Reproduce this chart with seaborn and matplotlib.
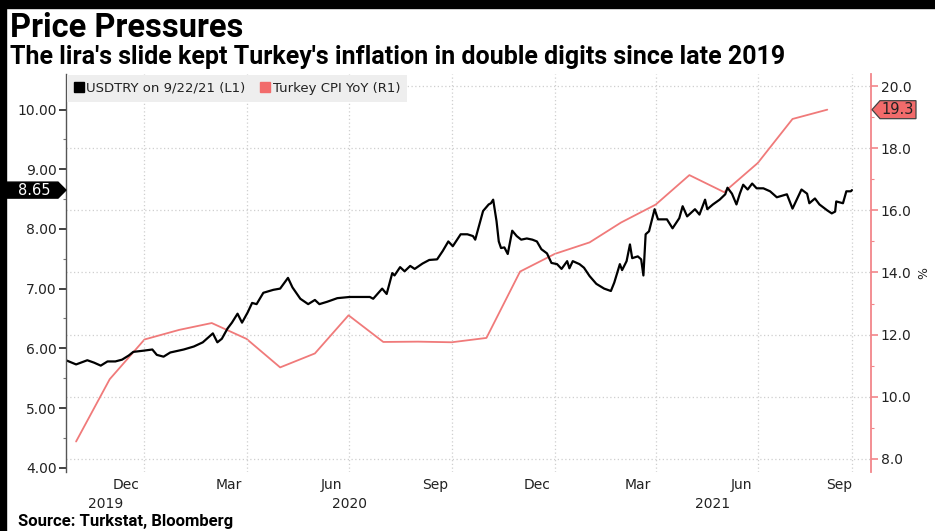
import matplotlib
matplotlib.use("Agg")
import matplotlib.pyplot as plt
import matplotlib.transforms as mtransforms
from matplotlib.lines import Line2D
from matplotlib.patches import Rectangle, Polygon
import seaborn as sns
import pandas as pd
import numpy as np
from decimal import Decimal, ROUND_HALF_UP

# ---------------- data ----------------
usd_dates = [
    "2019-10-22", "2019-10-31", "2019-11-10", "2019-11-16", "2019-11-22", "2019-11-28", "2019-12-05", "2019-12-11", "2019-12-17", "2019-12-21",
    "2019-12-30", "2020-01-07", "2020-01-11", "2020-01-17", "2020-01-23", "2020-02-04", "2020-02-13", "2020-02-21", "2020-03-01", "2020-03-05",
    "2020-03-09", "2020-03-14", "2020-03-18", "2020-03-23", "2020-03-27", "2020-04-01", "2020-04-05", "2020-04-09", "2020-04-15", "2020-04-24",
    "2020-04-30", "2020-05-07", "2020-05-11", "2020-05-18", "2020-05-25", "2020-05-31", "2020-06-04", "2020-06-11", "2020-06-20", "2020-07-01",
    "2020-07-19", "2020-07-22", "2020-07-30", "2020-08-03", "2020-08-08", "2020-08-10", "2020-08-15", "2020-08-19", "2020-08-24", "2020-08-28",
    "2020-09-04", "2020-09-10", "2020-09-17", "2020-09-22", "2020-09-27", "2020-10-01", "2020-10-08", "2020-10-14", "2020-10-19", "2020-10-21",
    "2020-10-26", "2020-10-28", "2020-11-02", "2020-11-04", "2020-11-06", "2020-11-09", "2020-11-11", "2020-11-13", "2020-11-16", "2020-11-19",
    "2020-11-23", "2020-11-27", "2020-12-01", "2020-12-06", "2020-12-11", "2020-12-15", "2020-12-19", "2020-12-24", "2020-12-28", "2021-01-02",
    "2021-01-06", "2021-01-11", "2021-01-13", "2021-01-16", "2021-01-22", "2021-01-26", "2021-01-31", "2021-02-06", "2021-02-13", "2021-02-19",
    "2021-02-22", "2021-02-27", "2021-03-01", "2021-03-05", "2021-03-08", "2021-03-10", "2021-03-15", "2021-03-18", "2021-03-20", "2021-03-22",
    "2021-03-25", "2021-03-30", "2021-04-02", "2021-04-10", "2021-04-15", "2021-04-21", "2021-04-24", "2021-04-28", "2021-05-05", "2021-05-09",
    "2021-05-14", "2021-05-16", "2021-05-21", "2021-05-27", "2021-06-01", "2021-06-03", "2021-06-07", "2021-06-11", "2021-06-14", "2021-06-17",
    "2021-06-21", "2021-06-25", "2021-06-29", "2021-07-05", "2021-07-11", "2021-07-17", "2021-07-26", "2021-07-31", "2021-08-08", "2021-08-13",
    "2021-08-15", "2021-08-20", "2021-08-24", "2021-08-31", "2021-09-04", "2021-09-07", "2021-09-08", "2021-09-14", "2021-09-17", "2021-09-21",
    "2021-09-22",
]
usd_values = [
    5.80, 5.73, 5.80, 5.76, 5.71, 5.78, 5.78, 5.81, 5.88, 5.94,
    5.96, 5.98, 5.89, 5.86, 5.93, 5.98, 6.03, 6.10, 6.25, 6.10,
    6.16, 6.33, 6.43, 6.58, 6.43, 6.60, 6.76, 6.74, 6.93, 6.98,
    7.00, 7.18, 7.02, 6.83, 6.74, 6.81, 6.74, 6.78, 6.84, 6.86,
    6.86, 6.83, 7.00, 6.91, 7.26, 7.22, 7.36, 7.29, 7.38, 7.33,
    7.42, 7.48, 7.49, 7.63, 7.79, 7.71, 7.91, 7.91, 7.88, 7.82,
    8.16, 8.30, 8.41, 8.43, 8.49, 8.13, 7.79, 7.68, 7.69, 7.58,
    7.97, 7.88, 7.82, 7.84, 7.82, 7.79, 7.66, 7.59, 7.43, 7.41,
    7.33, 7.46, 7.34, 7.46, 7.41, 7.35, 7.21, 7.08, 7.00, 6.96,
    7.10, 7.41, 7.31, 7.46, 7.74, 7.51, 7.54, 7.49, 7.22, 7.91,
    7.96, 8.33, 8.16, 8.16, 8.01, 8.18, 8.38, 8.21, 8.33, 8.24,
    8.49, 8.33, 8.41, 8.49, 8.58, 8.69, 8.59, 8.41, 8.59, 8.74,
    8.66, 8.76, 8.68, 8.68, 8.63, 8.53, 8.58, 8.34, 8.66, 8.59,
    8.43, 8.51, 8.41, 8.31, 8.26, 8.29, 8.46, 8.43, 8.63, 8.63,
    8.65,
]

cpi_dates = [
    "2019-10-31", "2019-11-30", "2019-12-31", "2020-01-31", "2020-02-29", "2020-03-31", "2020-04-30", "2020-05-31",
    "2020-06-30", "2020-07-31", "2020-08-31", "2020-09-30", "2020-10-31", "2020-11-30", "2020-12-31", "2021-01-31",
    "2021-02-28", "2021-03-31", "2021-04-30", "2021-05-31", "2021-06-30", "2021-07-31", "2021-08-31",
]
cpi_values = [
    8.55, 10.56, 11.84, 12.15, 12.37, 11.86, 10.94, 11.39,
    12.62, 11.76, 11.77, 11.75, 11.89, 14.03, 14.60, 14.97,
    15.61, 16.19, 17.14, 16.59, 17.53, 18.95, 19.25,
]

series_labels = ["USDTRY on 9/22/21 (L1)", "Turkey CPI YoY (R1)"]
left_ticks = [4, 5, 6, 7, 8, 9, 10]
right_ticks = [8, 10, 12, 14, 16, 18, 20]
grid_dates = ["2019-12-31", "2020-03-31", "2020-06-30", "2020-09-30", "2020-12-31", "2021-03-31", "2021-06-30", "2021-09-22"]
month_label_dates = ["2019-12-15", "2020-03-15", "2020-06-15", "2020-09-15", "2020-12-15", "2021-03-15", "2021-06-15", "2021-09-11"]
month_labels = ["Dec", "Mar", "Jun", "Sep", "Dec", "Mar", "Jun", "Sep"]
year_label_dates = ["2019-11-26", "2020-07-01", "2021-05-21"]
year_labels = ["2019", "2020", "2021"]
x_range = ["2019-10-22", "2021-10-09"]

title = "Price Pressures"
subtitle = "The lira's slide kept Turkey's inflation in double digits since late 2019"
source = "Source: Turkstat, Bloomberg"

# ---------------- style ----------------
RED = "#F07A7A"
RED_SPINE = "#F2868A"
TAG_RED = "#F26B6B"
GRID = "#cfcfcf"
TXT = "#222222"

sns.set_style("white")
plt.rcParams["font.family"] = ["DejaVu Sans"]
BOLD_FAMILY = ["Roboto", "DejaVu Sans"]

W, H = 935, 531
fig = plt.figure(figsize=(W / 100, H / 100), dpi=100)
fig.patch.set_facecolor("white")

ax_l, ax_r, ax_t, ax_b = 66, 871, 74, 472
ax = fig.add_axes([ax_l / W, 1 - ax_b / H, (ax_r - ax_l) / W, (ax_b - ax_t) / H])
ax2 = ax.twinx()

df_usd = pd.DataFrame({"date": pd.to_datetime(usd_dates), "value": usd_values})
df_cpi = pd.DataFrame({"date": pd.to_datetime(cpi_dates), "value": cpi_values})

sns.lineplot(data=df_cpi, x="date", y="value", ax=ax2, color=RED, lw=1.3)
sns.lineplot(data=df_usd, x="date", y="value", ax=ax, color="black", lw=1.6)

# black line above red
ax.set_zorder(ax2.get_zorder() + 1)
ax.patch.set_visible(False)

ax.set_xlim(pd.to_datetime(x_range[0]), pd.to_datetime(x_range[1]))
ax.set_ylim(3.928, 10.595)
ax2.set_ylim(7.567, 20.40)

for a in (ax, ax2):
    a.set_xlabel("")
    a.set_ylabel("")

# left axis
ax.set_yticks(left_ticks)
ax.set_yticklabels([f"{v:.2f}" for v in left_ticks])
ax.set_yticks([v + 0.5 for v in left_ticks[:-1]], minor=True)
ax.tick_params(axis="y", which="major", direction="out", length=5, width=1.3, color="#333333",
               labelsize=10, labelcolor=TXT, pad=1.5, left=True)
ax.tick_params(axis="y", which="minor", direction="out", length=2.5, width=0.8, color="#777777", left=True)

# right axis
ax2.set_yticks(right_ticks)
ax2.set_yticklabels([f"{v:.1f}" for v in right_ticks])
ax2.set_yticks([v + 1 for v in right_ticks[:-1]], minor=True)
ax2.tick_params(axis="y", which="major", direction="out", length=5, width=1.2, color=RED_SPINE,
                labelsize=10, labelcolor=TXT, pad=2, right=True)
ax2.tick_params(axis="y", which="minor", direction="out", length=2.5, width=0.8, color=RED_SPINE, right=True)
ax2.set_ylabel("%", rotation=90, fontsize=9, color=TXT, labelpad=4)

# x axis: grid at quarter ends, month labels centred in the month
ax.set_xticks(pd.to_datetime(grid_dates))
ax.set_xticklabels([""] * len(grid_dates))
ax.set_xticks(pd.to_datetime(month_label_dates), minor=True)
ax.set_xticklabels(month_labels, minor=True)
ax.tick_params(axis="x", which="both", length=0, labelsize=10, labelcolor=TXT, pad=4, bottom=True)

ax.xaxis.grid(True, which="major", linestyle=(0, (1, 2)), color=GRID, lw=0.9)
ax.yaxis.grid(False)
ax2.yaxis.grid(True, which="major", linestyle=(0, (1, 2)), color=GRID, lw=0.9)
ax2.xaxis.grid(False)

xtrans = mtransforms.blended_transform_factory(ax.transData, ax.transAxes)
for d, lab in zip(year_label_dates, year_labels):
    ax.text(pd.to_datetime(d), -0.062, lab, transform=xtrans, ha="center", va="top",
            fontsize=10, color=TXT)

# spines
for s in ("top", "bottom", "right"):
    ax.spines[s].set_visible(False)
ax.spines["left"].set_color("#555555")
ax.spines["left"].set_linewidth(1.0)
for s in ("top", "bottom", "left"):
    ax2.spines[s].set_visible(False)
ax2.spines["right"].set_color(RED_SPINE)
ax2.spines["right"].set_linewidth(1.3)

# legend
handles = [Line2D([], [], marker="s", color="black", linestyle="none", markersize=7),
           Line2D([], [], marker="s", color=TAG_RED, linestyle="none", markersize=7)]
leg = ax.legend(handles, series_labels, loc="upper left", bbox_to_anchor=(0, 1), ncol=2,
                frameon=True, facecolor="#eeeeee", edgecolor="none", fancybox=False, framealpha=1,
                fontsize=9.5, handlelength=0.7, handletextpad=0.25, columnspacing=1.1,
                borderaxespad=0.1, borderpad=0.5)
for t in leg.get_texts():
    t.set_color(TXT)

# value tags at the axes (built from the last data points)
def half_up(v, nd):
    q = Decimal(1).scaleb(-nd)
    return str(Decimal(str(v)).quantize(q, rounding=ROUND_HALF_UP))

fig.canvas.draw()
x0_num = ax.get_xlim()[0]
x1_num = ax.get_xlim()[1]
_, ly = ax.transData.transform((x0_num, usd_values[-1]))
_, ry = ax2.transData.transform((x1_num, cpi_values[-1]))
lx = ax.transAxes.transform((0, 0))[0]
rx = ax.transAxes.transform((1, 0))[0]
ident = mtransforms.IdentityTransform()

hh = 8
left_tag = Polygon([(0, ly - hh), (lx - 8, ly - hh), (lx, ly), (lx - 8, ly + hh), (0, ly + hh)],
                   closed=True, transform=ident, facecolor="black", edgecolor="black", zorder=10)
fig.add_artist(left_tag)
fig.text((lx - 32) / W, ly / H, half_up(usd_values[-1], 2), ha="center", va="center",
         color="white", fontsize=10.5, zorder=11)

hh2 = 9
right_tag = Polygon([(rx + 1, ry), (rx + 9, ry + hh2), (rx + 45, ry + hh2), (rx + 45, ry - hh2), (rx + 9, ry - hh2)],
                    closed=True, transform=ident, facecolor=TAG_RED, edgecolor="#444444", lw=0.9, zorder=10)
fig.add_artist(right_tag)
fig.text((rx + 27) / W, ry / H, half_up(cpi_values[-1], 1), ha="center", va="center",
         color=TXT, fontsize=10.5, zorder=11)

# titles & source
fig.text(10 / W, 1 - 37 / H, title, fontsize=23.5, fontweight="bold", family=BOLD_FAMILY,
         color="black", va="baseline", ha="left")
fig.text(10 / W, 1 - 64 / H, subtitle, fontsize=18, fontweight="bold", family=BOLD_FAMILY,
         color="black", va="baseline", ha="left")
fig.text(18 / W, 1 - 526 / H, source, fontsize=12, fontweight="bold", family=BOLD_FAMILY,
         color="black", va="baseline", ha="left")

# black frame at top and left
fig.add_artist(Rectangle((0, 1 - 8 / H), 1, 8 / H, transform=fig.transFigure, color="black", zorder=20))
fig.add_artist(Rectangle((0, 0), 6 / W, 1, transform=fig.transFigure, color="black", zorder=20))

fig.savefig("out.png", dpi=100, facecolor="white")
